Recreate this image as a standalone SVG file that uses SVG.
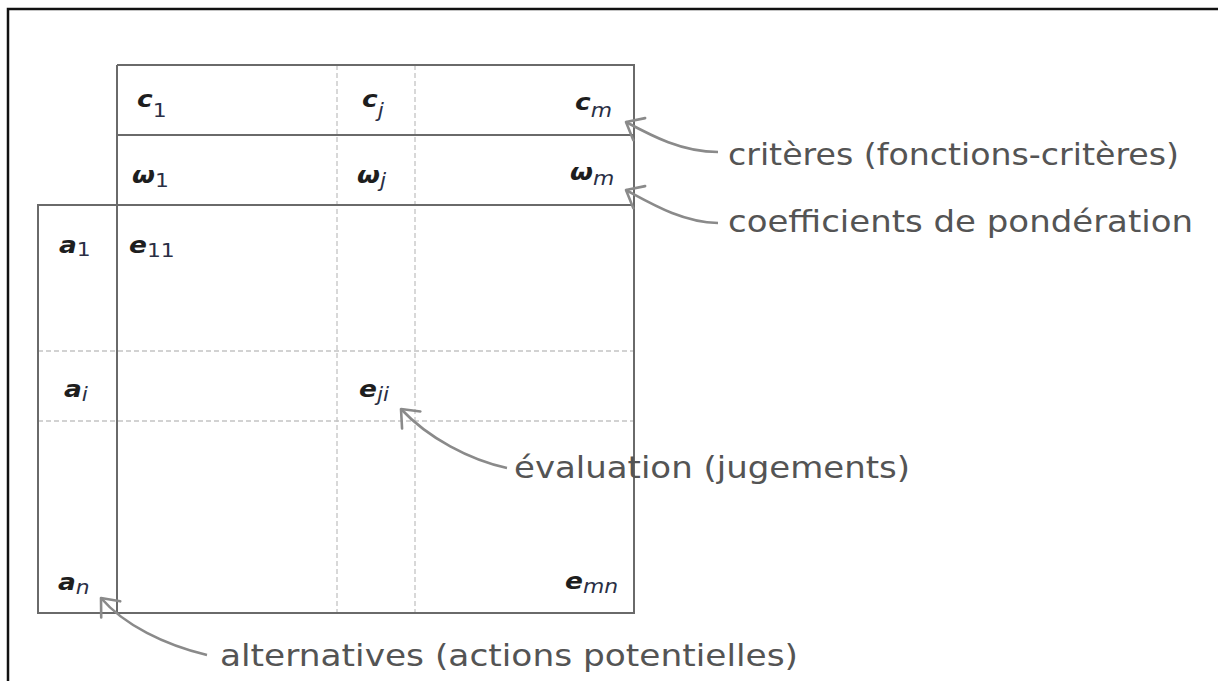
<svg xmlns="http://www.w3.org/2000/svg" width="1218" height="681" viewBox="0 0 1218 681">
<style>
.frame{stroke:#111;stroke-width:2.5;fill:none}
.solid{stroke:#6a6a6a;stroke-width:2;fill:none}
.dash{stroke:#c4c4c4;stroke-width:1.3;stroke-dasharray:5 3;fill:none}
.arrow{stroke:#8a8a8a;stroke-width:2.6;fill:none}
.lbl{font-family:"DejaVu Sans",sans-serif;font-size:30px;fill:#545454}
.m{font-family:"DejaVu Sans",sans-serif;font-size:23px;font-weight:bold;font-style:oblique;fill:#1e1e1e}
.s{font-size:19px;font-weight:normal;fill:#2a2f45}
.u{font-style:normal}
</style>
<defs>
<marker id="ah" markerUnits="userSpaceOnUse" viewBox="-20 -16 24 32" markerWidth="24" markerHeight="32" refX="0" refY="0" orient="auto">
<path d="M-15,-12.5 L0,0 L-15,12.5" stroke="#8a8a8a" stroke-width="2.6" fill="none" stroke-linecap="round" stroke-linejoin="round"/>
</marker>
</defs>
<rect width="1218" height="681" fill="#fff"/>
<path class="frame" d="M8,681 L8,9 L1218,9"/>
<g id="grid">
<path class="dash" d="M337,65 V613 M415,65 V613 M38,351 H634 M38,421 H634"/>
<path class="solid" d="M117,65 H634 V613 H38 V205 H634 M117,135 H634 M117,65 V613"/>
</g>
<g id="header-criteria">
<text class="m" transform="translate(137,107) scale(1.15,1)">c<tspan class="s u" dy="10">1</tspan></text>
<text class="m" transform="translate(362,107) scale(1.15,1)">c<tspan class="s" dy="10">j</tspan></text>
<text class="m" transform="translate(575,110) scale(1.15,1)">c<tspan class="s" dy="7">m</tspan></text>
</g>
<g id="header-weights">
<text class="m" transform="translate(132,183) scale(1.15,1)">ω<tspan class="s u" dy="4">1</tspan></text>
<text class="m" transform="translate(357,183) scale(1.15,1)">ω<tspan class="s" dy="4">j</tspan></text>
<text class="m" transform="translate(570,180) scale(1.15,1)">ω<tspan class="s" dy="5">m</tspan></text>
</g>
<g id="alternatives-col">
<text class="m" transform="translate(59,253) scale(1.15,1)">a<tspan class="s u" dy="3">1</tspan></text>
<text class="m" transform="translate(64,397) scale(1.15,1)">a<tspan class="s" dy="4">i</tspan></text>
<text class="m" transform="translate(58,590) scale(1.15,1)">a<tspan class="s" dy="4">n</tspan></text>
</g>
<g id="evaluations">
<text class="m" transform="translate(129,253) scale(1.15,1)">e<tspan class="s u" dy="4">11</tspan></text>
<text class="m" transform="translate(359,397) scale(1.15,1)">e<tspan class="s" dy="4">ji</tspan></text>
<text class="m" transform="translate(565,589) scale(1.15,1)">e<tspan class="s" dy="4">mn</tspan></text>
</g>
<g id="connectors">
<path class="arrow" marker-end="url(#ah)" d="M718,152 C682,152 652,136 626,122"/>
<path class="arrow" marker-end="url(#ah)" d="M718,223 C682,222 652,204 626,190"/>
<path class="arrow" marker-end="url(#ah)" d="M507,468 C470,460 428,438 401,409"/>
<path class="arrow" marker-end="url(#ah)" d="M207,655 C165,645 124,625 101,598"/>
</g>
<g id="label-criteres"><text class="lbl" x="728" y="165" textLength="451" lengthAdjust="spacingAndGlyphs">critères (fonctions-critères)</text></g>
<g id="label-coefficients"><text class="lbl" x="728" y="232" textLength="465" lengthAdjust="spacingAndGlyphs">coefficients de pondération</text></g>
<g id="label-evaluation"><text class="lbl" x="514" y="478" textLength="396" lengthAdjust="spacingAndGlyphs">évaluation (jugements)</text></g>
<g id="label-alternatives"><text class="lbl" x="220" y="666" textLength="578" lengthAdjust="spacingAndGlyphs">alternatives (actions potentielles)</text></g>
</svg>
